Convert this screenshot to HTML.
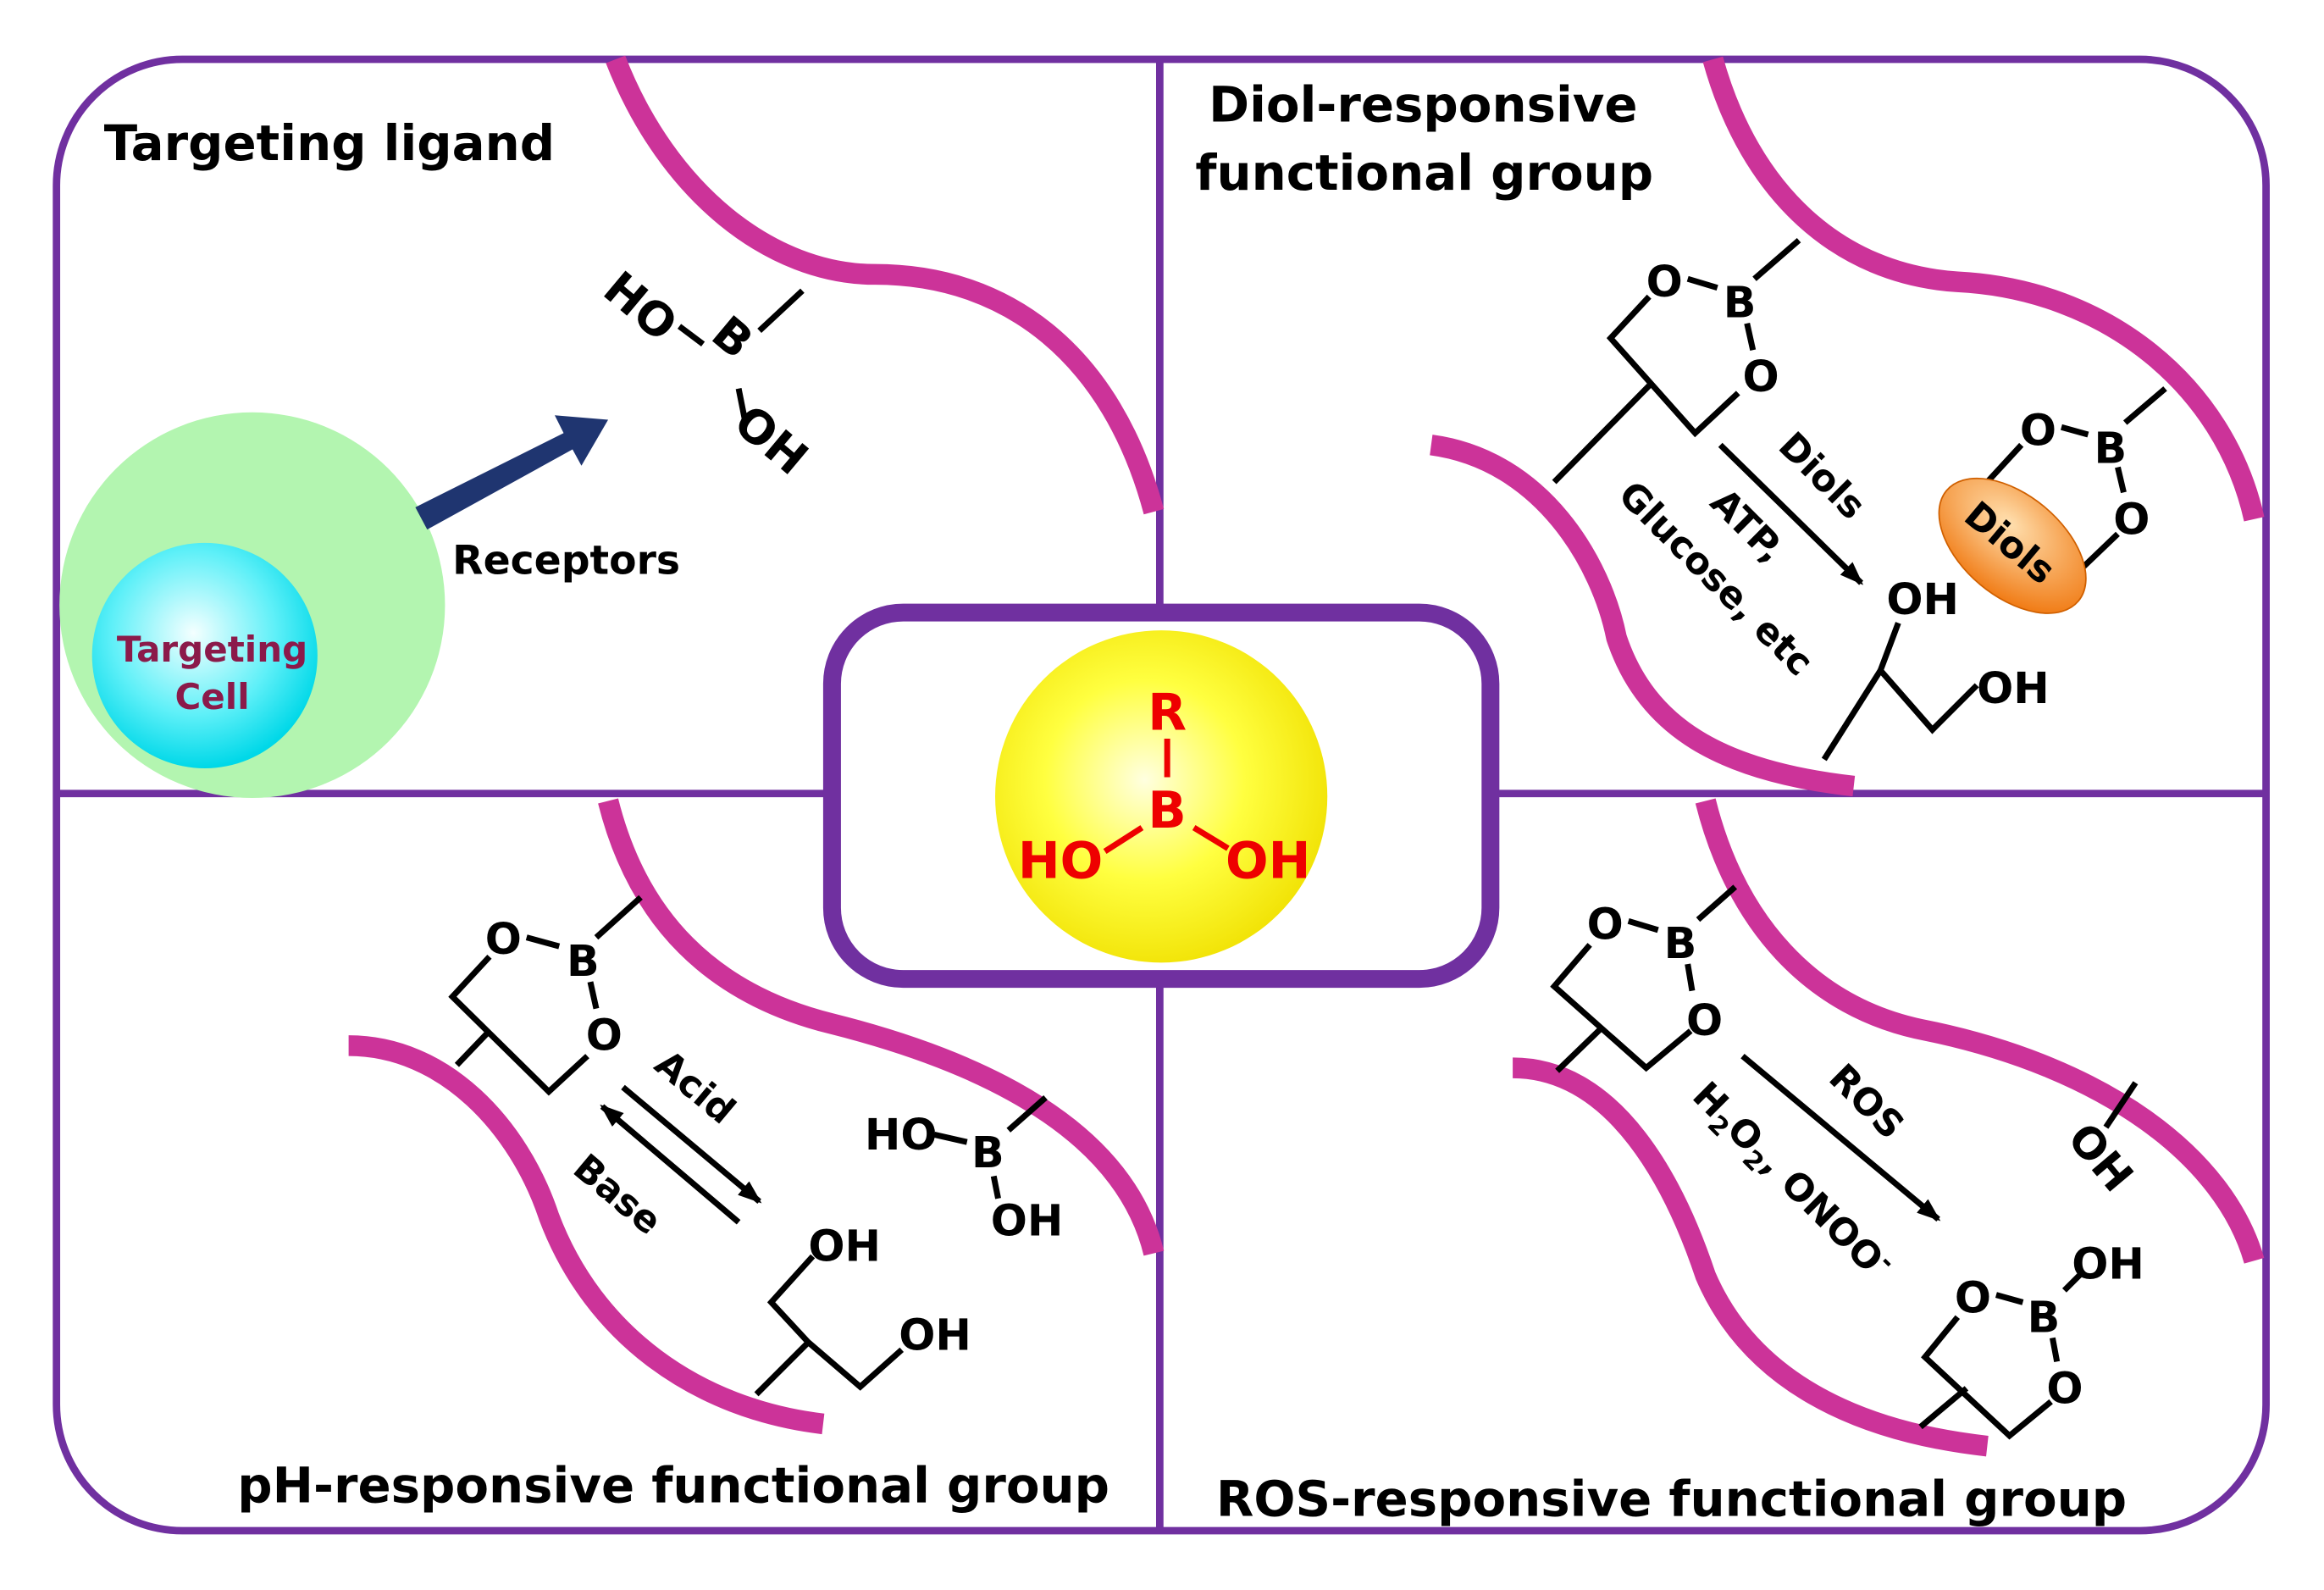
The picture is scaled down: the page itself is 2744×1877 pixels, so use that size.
<!DOCTYPE html>
<html><head><meta charset="utf-8"><style>
html,body{margin:0;padding:0;background:#fff;}
svg{display:block;}
text{font-family:"DejaVu Sans","Liberation Sans",sans-serif;font-weight:bold;}
</style></head><body>
<svg width="2744" height="1877" viewBox="0 0 1567 1072" xmlns="http://www.w3.org/2000/svg">
<defs>
<radialGradient id="yel" cx="0.45" cy="0.45" r="0.6"><stop offset="0" stop-color="#ffffe0"/><stop offset="0.5" stop-color="#ffff40"/><stop offset="1" stop-color="#f0e000"/></radialGradient>
<radialGradient id="cy" cx="0.45" cy="0.4" r="0.6"><stop offset="0" stop-color="#f4ffff"/><stop offset="0.6" stop-color="#60f0f8"/><stop offset="1" stop-color="#00d8e8"/></radialGradient>
<radialGradient id="or" cx="0.4" cy="0.35" r="0.7"><stop offset="0" stop-color="#ffe0b0"/><stop offset="1" stop-color="#f07810"/></radialGradient>
<marker id="ah" markerWidth="18" markerHeight="14" refX="14" refY="7" orient="auto" markerUnits="userSpaceOnUse"><path d="M0,1 L16,7 L0,13 Z" fill="#000"/></marker>
</defs>
<rect x="0" y="0" width="1567" height="1072" fill="#fff"/>
<rect x="38" y="40" width="1490" height="992" rx="85" fill="none" stroke="#7030A0" stroke-width="5"/>
<line x1="782" y1="40" x2="782" y2="1032" stroke="#7030A0" stroke-width="5"/>
<line x1="38" y1="535" x2="1528" y2="535" stroke="#7030A0" stroke-width="5"/>

<g fill="none" stroke="#CC3399" stroke-width="14">
<path d="M415,40 C450,130 520,185 590,185 C680,185 750,240 778,345"/>
<path d="M1155,40 C1180,130 1240,185 1320,190 C1420,195 1500,260 1520,350"/>
<path d="M965,300 C1040,310 1080,380 1090,430 C1110,490 1160,520 1250,530"/>
<path d="M410,540 C430,620 480,670 560,690 C680,720 760,770 778,845"/>
<path d="M235,705 C300,705 350,760 370,820 C400,900 470,950 555,960"/>
<path d="M1150,540 C1170,620 1220,680 1300,695 C1420,720 1500,780 1520,850"/>
<path d="M1020,720 C1090,720 1130,800 1150,860 C1180,930 1250,965 1340,975"/>
</g>

<!-- Top-left -->
<text x="70" y="108" font-size="33" fill="#000">Targeting ligand</text>
<circle cx="170" cy="408" r="130" fill="#B3F5B0"/>
<circle cx="138" cy="442" r="76" fill="url(#cy)"/>
<text x="143" y="446" font-size="24" fill="#8B1A4A" text-anchor="middle">Targeting</text>
<text x="143" y="478" font-size="24" fill="#8B1A4A" text-anchor="middle">Cell</text>
<polygon points="280,342 380,292 374,280 410,283 392,314 386,303 288,357" fill="#1F3570"/>
<text x="305" y="387" font-size="27" fill="#000">Receptors</text>
<line x1="541" y1="196" x2="512" y2="223" stroke="#000" stroke-width="4"/>
<g font-size="31" fill="#000">
<text transform="translate(405,198) rotate(40)">HO</text>
<text transform="translate(478,228) rotate(40)">B</text>
<text transform="translate(493,288) rotate(40)">OH</text>
</g>
<line x1="458" y1="220" x2="474" y2="232" stroke="#000" stroke-width="4"/>
<line x1="498" y1="262" x2="502" y2="282" stroke="#000" stroke-width="4"/>

<!-- Top-right -->
<text x="815" y="82" font-size="33" fill="#000">Diol-responsive</text>
<text x="806" y="128" font-size="33" fill="#000">functional group</text>
<g font-size="29" fill="#000">
<text x="1110" y="200">O</text><text x="1162" y="214">B</text><text x="1175" y="264">O</text>
<text x="1272" y="414">OH</text><text x="1333" y="474">OH</text>
<text x="1362" y="300">O</text><text x="1412" y="312">B</text><text x="1425" y="360">O</text>
</g>
<g stroke="#000" stroke-width="4" fill="none">
<path d="M1138,188 L1158,194"/><path d="M1183,188 L1213,162"/><path d="M1178,218 L1182,236"/>
<path d="M1112,200 L1086,228 L1143,292 L1172,265"/><path d="M1112,260 L1048,325"/>
<path d="M1160,300 L1255,393" marker-end="url(#ah)"/>
<path d="M1280,420 L1268,452 L1303,492 L1333,462"/><path d="M1268,452 L1230,512"/>
<path d="M1390,288 L1408,293"/><path d="M1433,285 L1460,262"/><path d="M1428,315 L1432,332"/>
<path d="M1363,300 L1340,325"/><path d="M1428,360 L1405,382"/>
</g>
<g font-size="25" fill="#000">
<text transform="translate(1198,302) rotate(45)">Diols</text>
<text transform="translate(1152,340) rotate(45)">ATP,</text>
<text transform="translate(1090,335) rotate(45)">Glucose, etc</text>
</g>
<ellipse cx="1357" cy="368" rx="58" ry="34" transform="rotate(40 1357 368)" fill="url(#or)" stroke="#d06000" stroke-width="1"/>
<text transform="translate(1323,350) rotate(40)" font-size="25" fill="#000">Diols</text>

<!-- Center -->
<rect x="561" y="413" width="444" height="247" rx="48" fill="#fff" stroke="#7030A0" stroke-width="12"/>
<circle cx="783" cy="537" r="112" fill="url(#yel)"/>
<g font-size="34" fill="#ee0000" text-anchor="middle" font-family="Liberation Sans">
<text x="787" y="492">R</text><text x="787" y="558">B</text><text x="715" y="592">HO</text><text x="855" y="592">OH</text>
</g>
<g stroke="#ee0000" stroke-width="4"><line x1="787" y1="498" x2="787" y2="524"/><line x1="745" y1="574" x2="770" y2="558"/><line x1="805" y1="558" x2="828" y2="572"/></g>

<!-- Bottom-left -->
<g font-size="29" fill="#000">
<text x="327" y="643">O</text><text x="382" y="658">B</text><text x="395" y="708">O</text>
<text x="583" y="775">HO</text><text x="655" y="787">B</text><text x="668" y="833">OH</text>
<text x="545" y="850">OH</text><text x="606" y="910">OH</text>
</g>
<g stroke="#000" stroke-width="4" fill="none">
<path d="M355,632 L377,638"/><path d="M402,632 L432,605"/><path d="M398,662 L402,680"/>
<path d="M330,645 L305,672 L370,736 L396,712"/><path d="M330,695 L308,718"/>
<path d="M630,765 L652,770"/><path d="M680,762 L705,740"/><path d="M670,793 L673,808"/>
<path d="M420,733 L512,810" marker-end="url(#ah)"/><path d="M498,824 L406,746" marker-end="url(#ah)"/>
<path d="M548,847 L520,878 L545,905 L580,935 L608,910"/><path d="M545,905 L510,940"/>
</g>
<g font-size="25" fill="#000">
<text transform="translate(440,720) rotate(40)">Acid</text>
<text transform="translate(385,790) rotate(40)">Base</text>
</g>
<text x="160" y="1013" font-size="33" fill="#000">pH-responsive  functional group</text>

<!-- Bottom-right -->
<g font-size="29" fill="#000">
<text x="1070" y="633">O</text><text x="1122" y="646">B</text><text x="1137" y="698">O</text>
<text x="1318" y="885">O</text><text x="1367" y="898">B</text><text x="1380" y="946">O</text>
<text x="1397" y="862">OH</text>
</g>
<text transform="translate(1393,768) rotate(50)" font-size="29" fill="#000">OH</text>
<g stroke="#000" stroke-width="4" fill="none">
<path d="M1098,621 L1118,627"/><path d="M1145,620 L1170,598"/><path d="M1138,650 L1141,668"/>
<path d="M1072,637 L1048,665 L1110,720 L1140,695"/><path d="M1080,693 L1050,722"/>
<path d="M1175,712 L1307,822" marker-end="url(#ah)"/>
<path d="M1440,730 L1420,760"/>
<path d="M1346,873 L1364,878"/><path d="M1392,870 L1405,857"/><path d="M1384,902 L1387,918"/>
<path d="M1320,888 L1298,915 L1355,968 L1383,945"/><path d="M1326,936 L1295,962"/>
</g>
<g font-size="25" fill="#000">
<text transform="translate(1232,728) rotate(45)">ROS</text>
<text transform="translate(1140,740) rotate(45)">H<tspan font-size="17" dy="6">2</tspan><tspan dy="-6">O</tspan><tspan font-size="17" dy="6">2</tspan><tspan dy="-6">,  ONOO</tspan><tspan font-size="17" dy="-10">-</tspan></text>
</g>
<text x="820" y="1022" font-size="33" fill="#000">ROS-responsive  functional group</text>
</svg>
</body></html>
